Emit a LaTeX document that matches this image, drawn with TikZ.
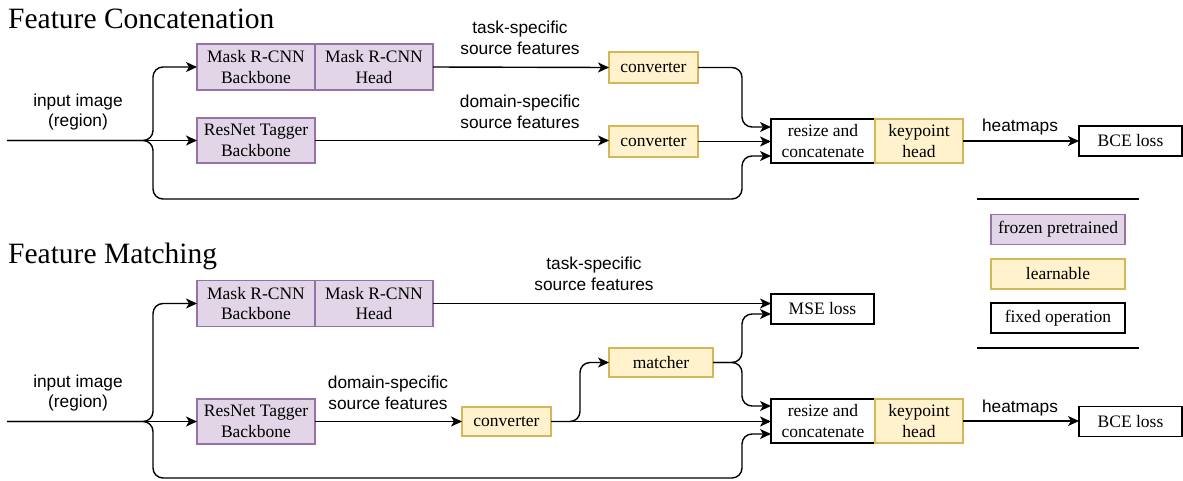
\documentclass[tikz,border=0pt]{standalone}
\usepackage{fontspec}
\setmainfont{Liberation Serif}
\setsansfont{Liberation Sans}
\usepackage{xcolor}
\usepackage{tikz}
\usetikzlibrary{positioning,arrows.meta,calc}
\definecolor{frozenfill}{HTML}{E1D5E7}
\definecolor{frozendraw}{HTML}{9673A6}
\definecolor{learnfill}{HTML}{FFF2CC}
\definecolor{learndraw}{HTML}{D6B656}
\tikzset{
>={Stealth[length=11pt,width=10pt,inset=3pt]},
  box/.style={
    rectangle,
    line width=1.3pt,
    inner sep=0pt, outer sep=0pt,
    align=center,
    font=\fontsize{17.5}{20.5}\selectfont},
  frozen/.style={box, fill=frozenfill, draw=frozendraw,
    minimum width=118pt, minimum height=46pt},
  learnable/.style={box, fill=learnfill, draw=learndraw,
    minimum width=89pt, minimum height=31pt},
  fixedop/.style={box, fill=white, draw=black,
    minimum width=103pt, minimum height=30pt},
  legendbox/.style={minimum width=134pt, minimum height=30pt},
  lbl/.style={align=center, font=\sffamily\fontsize{17.3}{20.5}\selectfont},
  title/.style={anchor=base west, inner sep=0pt, font=\fontsize{29.5}{32}\selectfont},
  conn/.style={draw, line width=1.4pt, ->, rounded corners=10pt}
}
\begin{document}
\begin{tikzpicture}[x=1pt,y=-1pt]
    \useasboundingbox (0,0) rectangle (1183,480);

    \node[title] (ttlcat) at (8,28) {Feature Concatenation};
    \node[title] (ttlmatch) at (8,263) {Feature Matching};

    \coordinate (in1) at (7,140.5);
    \coordinate (low1) at (153,199);
    \node[frozen] (maskbb1) at (256,67) {Mask R-CNN\\Backbone};
    \node[frozen, right=0pt of maskbb1] (maskhd1) {Mask R-CNN\\Head};
    \node[frozen, minimum height=45pt] (resnet1) at (256,140.5) {ResNet Tagger\\Backbone};
    \node[learnable] (conv1) at (653.5,67.5) {converter};
    \node[learnable] (conv2) at (653.5,141.5) {converter};
    \node[fixedop, minimum width=104pt, minimum height=44pt] (resize1) at (823,141) {resize and\\concatenate};
    \node[learnable, minimum width=88pt, minimum height=44pt, right=0pt of resize1] (kphead1) {keypoint\\head};
    \node[fixedop] (bce1) at (1130.5,141) {BCE loss};

    \node[lbl] at (78,112) {input image\\(region)};
    \node[lbl] at (520,38) {task-specific\\source features};
    \node[lbl] at (520,112) {domain-specific\\source features};
    \node[lbl] at (1020,127) {heatmaps};

    \draw[conn] (in1) -- (resnet1.west);
    \draw[conn] (in1) -| ([xshift=-44pt]maskbb1.west) -- (maskbb1.west);
    \draw[conn] (in1) -| (low1) -| ([xshift=-29pt,yshift=-15pt]resize1.west) -- ([yshift=-15pt]resize1.west);
    \draw[conn] (maskhd1.east) -- (conv1.west);
    \draw[conn] (resnet1.east) -- (resnet1.east -| conv2.west);
    \draw[conn] (conv1.east) -| ([xshift=-29pt,yshift=14pt]resize1.west) -- ([yshift=14pt]resize1.west);
    \draw[conn] (conv2.east) -- (conv2.east -| resize1.west);
    \draw[conn] (kphead1.east) -- (kphead1.east -| bce1.west);

    \draw[line width=1.4pt] (977,199) -- (1139,199);
    \draw[line width=1.4pt] (977,348) -- (1139,348);
    \node[frozen, legendbox] (lgfrozen) at (1058,229.5) {frozen pretrained};
    \node[learnable, legendbox] (lglearn) at (1058,274) {learnable};
    \node[fixedop, legendbox] (lgfixed) at (1058,318) {fixed operation};

    \coordinate (in2) at (7,421.5);
    \coordinate (low2) at (153,478);
    \node[frozen] (maskbb2) at (256,303.5) {Mask R-CNN\\Backbone};
    \node[frozen, right=0pt of maskbb2] (maskhd2) {Mask R-CNN\\Head};
    \node[frozen, minimum height=45pt] (resnet2) at (256,421.5) {ResNet Tagger\\Backbone};
    \node[learnable, minimum height=29pt] (conv3) at (506.5,421.5) {converter};
    \node[learnable, minimum width=104pt, minimum height=29pt] (matcher) at (661,362.5) {matcher};
    \node[fixedop] (mse) at (822.5,309) {MSE loss};
    \node[fixedop, minimum width=104pt, minimum height=44pt] (resize2) at (823,421) {resize and\\concatenate};
    \node[learnable, minimum width=88pt, minimum height=44pt, right=0pt of resize2] (kphead2) {keypoint\\head};
    \node[fixedop] (bce2) at (1130.5,421.5) {BCE loss};

    \node[lbl] at (78,393) {input image\\(region)};
    \node[lbl] at (594,274) {task-specific\\source features};
    \node[lbl] at (388,393) {domain-specific\\source features};
    \node[lbl] at (1020,408) {heatmaps};

    \draw[conn] (in2) -- (resnet2.west);
    \draw[conn] (in2) -| ([xshift=-44pt]maskbb2.west) -- (maskbb2.west);
    \draw[conn] (in2) -| (low2) -| ([xshift=-29pt,yshift=-13pt]resize2.west) -- ([yshift=-13pt]resize2.west);
    \draw[conn] (maskhd2.east) -- (maskhd2.east -| mse.west);
    \draw[conn] (resnet2.east) -- (conv3.west);
    \draw[conn] (conv3.east) -| ([xshift=-29pt]matcher.west) -- (matcher.west);
    \draw[conn] (conv3.east) -- (conv3.east -| resize2.west);
    \draw[conn] (matcher.east) -| ([xshift=-29pt,yshift=-5pt]mse.west) -- ([yshift=-5pt]mse.west);
    \draw[conn] (matcher.east) -| ([xshift=-29pt,yshift=15pt]resize2.west) -- ([yshift=15pt]resize2.west);
    \draw[conn] (kphead2.east) -- (kphead2.east -| bce2.west);
\end{tikzpicture}
\end{document}
